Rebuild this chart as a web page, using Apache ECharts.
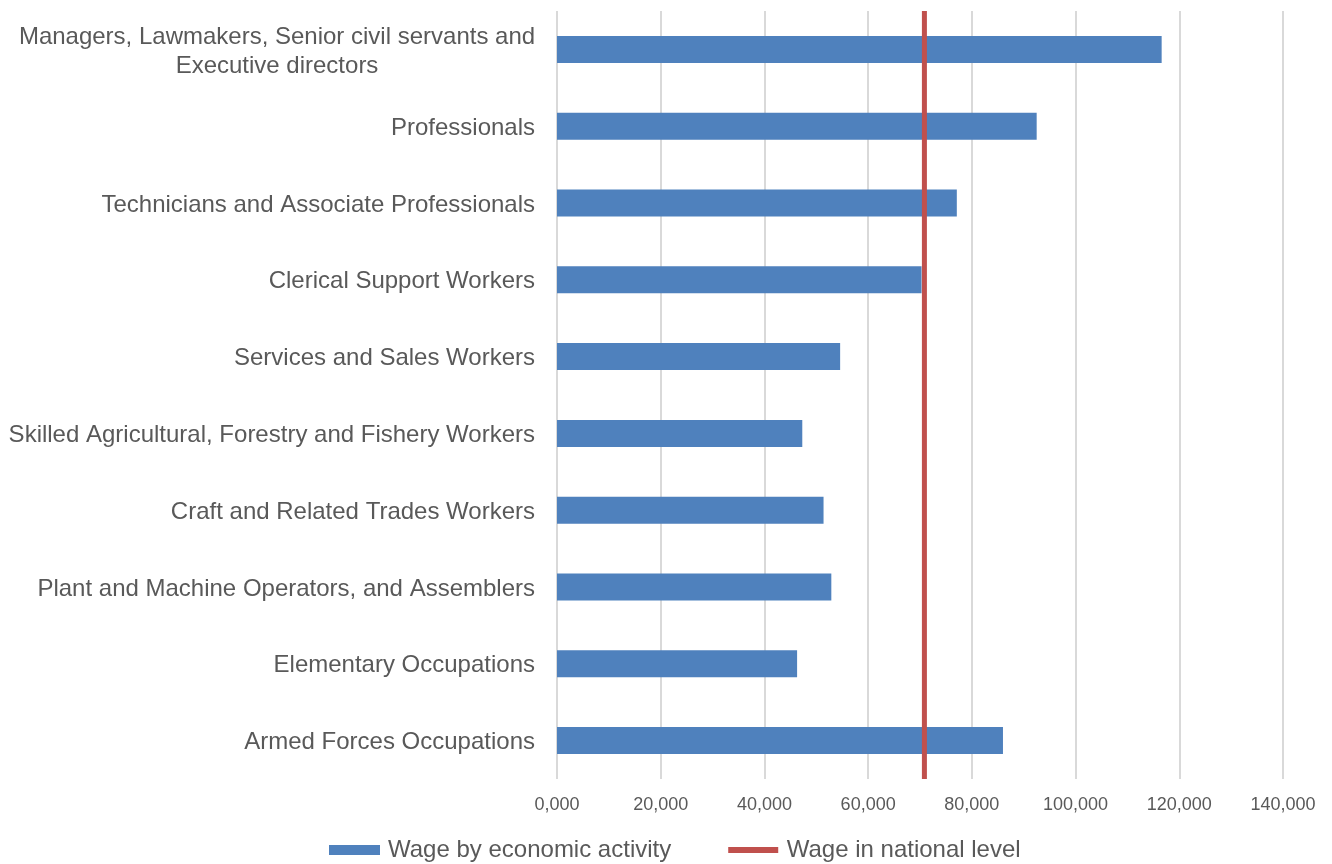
<!DOCTYPE html>
<html>
<head>
<meta charset="utf-8">
<script src="https://cdn.jsdelivr.net/npm/echarts@6/dist/echarts.min.js"></script>
<style>
html, body { margin: 0; padding: 0; background: #ffffff; }
#chart { width: 1332px; height: 864px; }
</style>
</head>
<body>
<div id="chart"></div>
<script>
const categories = [
  "Managers, Lawmakers, Senior civil servants and\nExecutive directors",
  "Professionals",
  "Technicians and Associate Professionals",
  "Clerical Support Workers",
  "Services and Sales Workers",
  "Skilled Agricultural, Forestry and Fishery Workers",
  "Craft and Related Trades Workers",
  "Plant and Machine Operators, and Assemblers",
  "Elementary Occupations",
  "Armed Forces Occupations"
];
const wageByActivity = [116600, 92500, 77100, 70300, 54600, 47300, 51400, 52900, 46300, 86000];
const nationalWage = 70850;
const xTickLabels = ["0,000", "20,000", "40,000", "60,000", "80,000", "100,000", "120,000", "140,000"];
const seriesNames = ["Wage by economic activity", "Wage in national level"];

const FONT = "'Liberation Sans', Arial, sans-serif";
const TEXT = "#595959";

const chart = echarts.init(document.getElementById('chart'), null, { renderer: 'canvas' });
chart.setOption({
  animation: false,
  backgroundColor: '#ffffff',
  grid: { left: 557, right: 49, top: 11, bottom: 85, containLabel: false },
  legend: {
    bottom: -3,
    left: 324,
    itemGap: 57,
    itemWidth: 51,
    itemHeight: 10,
    textStyle: { fontFamily: FONT, fontSize: 24, color: TEXT, padding: [0, 0, 0, 3] },
    data: [
      { name: seriesNames[0], icon: 'rect' },
      {
        name: seriesNames[1],
        icon: 'path://M0,0L0,0M0,2L50,2L50,8L0,8ZM0,10L0,10',
        itemStyle: { color: '#C0504D', borderWidth: 0 }
      }
    ]
  },
  xAxis: {
    type: 'value',
    min: 0,
    max: 140000,
    interval: 20000,
    axisLine: { show: false },
    axisTick: { show: false },
    splitLine: { show: true, lineStyle: { color: '#d9d9d9', width: 2 } },
    axisLabel: {
      margin: 17,
      fontFamily: FONT,
      fontSize: 18,
      color: TEXT,
      formatter: function (v) { return xTickLabels[Math.round(v / 20000)]; }
    }
  },
  yAxis: [
    {
      type: 'category',
      data: categories,
      inverse: true,
      axisLine: { show: false },
      axisTick: { show: false },
      splitLine: { show: false },
      axisLabel: {
        margin: 22,
        fontFamily: FONT,
        fontSize: 24,
        color: TEXT,
        lineHeight: 29,
        padding: [4, 0, 0, 0],
        formatter: function (v) {
          if (v.indexOf('\n') >= 0) {
            return v.split('\n').map(function (s) { return '{c|' + s + '}'; }).join('\n');
          }
          return v;
        },
        rich: {
          c: { width: 516, align: 'center', fontFamily: FONT, fontSize: 24, color: TEXT, lineHeight: 29 }
        }
      }
    },
    {
      type: 'value',
      min: 0,
      max: 1,
      show: false
    }
  ],
  series: [
    {
      name: seriesNames[0],
      type: 'bar',
      yAxisIndex: 0,
      data: wageByActivity,
      barWidth: 27,
      itemStyle: { color: '#4F81BD' }
    },
    {
      name: seriesNames[1],
      type: 'line',
      yAxisIndex: 1,
      data: [[nationalWage, 0], [nationalWage, 1]],
      symbol: 'none',
      lineStyle: { color: '#C0504D', width: 5 },
      itemStyle: { color: '#C0504D' },
      z: 5
    }
  ]
});
</script>
</body>
</html>
